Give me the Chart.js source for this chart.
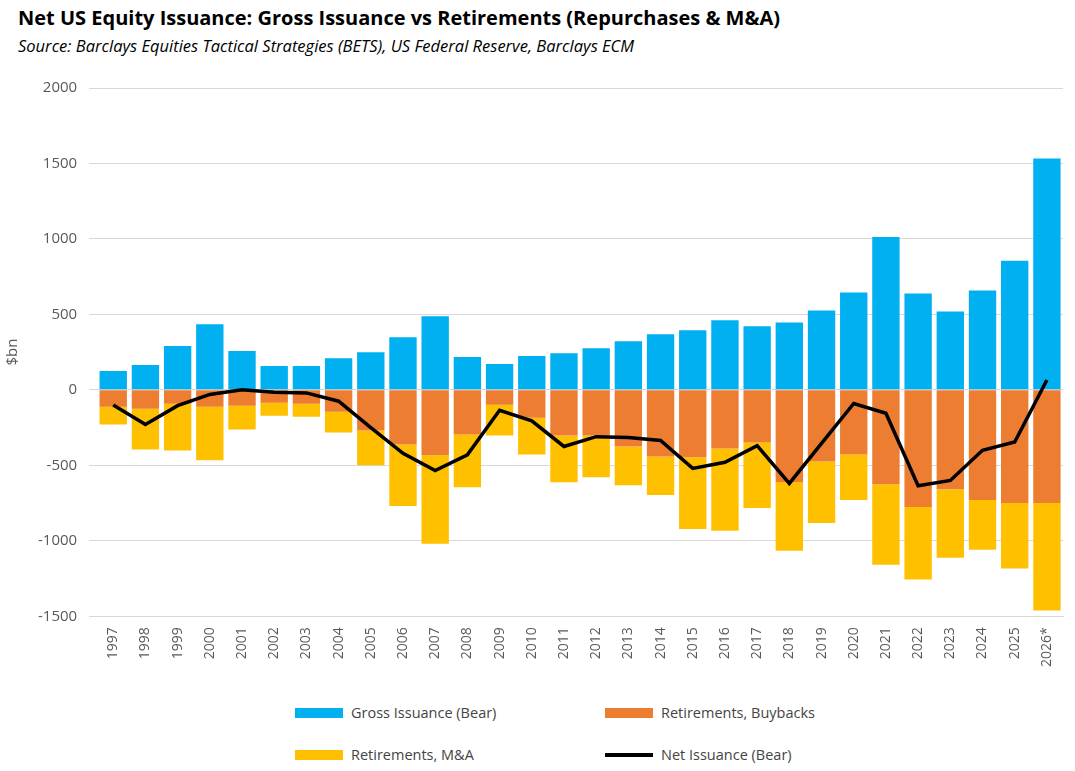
<!DOCTYPE html>
<html><head><meta charset="utf-8">
<script src="https://cdn.jsdelivr.net/npm/chart.js@4"></script>
<style>
body{margin:0;background:#fff;font-family:"Open Sans",sans-serif;width:1075px;height:771px;overflow:hidden;position:relative}
#t{position:absolute;left:18px;top:4px;font-size:20px;font-weight:bold;color:#000;font-family:"Open Sans",sans-serif}
#s{position:absolute;left:18px;top:34px;font-size:16.5px;font-style:italic;color:#000}
#c{position:absolute;left:0;top:67px;width:1075px;height:603px}
.lg{position:absolute;font-size:14.5px;color:#444;display:flex;align-items:center}
.sw{display:inline-block;width:48px;height:10px;margin-right:8px}
</style></head><body>
<div id="t">Net US Equity Issuance: Gross Issuance vs Retirements (Repurchases &amp; M&amp;A)</div>
<div id="s">Source: Barclays Equities Tactical Strategies (BETS), US Federal Reserve, Barclays ECM</div>
<div id="c"><canvas id="cv"></canvas></div>
<div class="lg" style="left:295px;top:703px"><span class="sw" style="background:#00B0F0"></span>Gross Issuance (Bear)</div>
<div class="lg" style="left:605px;top:703px"><span class="sw" style="background:#ED7D31"></span>Retirements, Buybacks</div>
<div class="lg" style="left:295px;top:745px"><span class="sw" style="background:#FFC000"></span>Retirements, M&amp;A</div>
<div class="lg" style="left:605px;top:745px"><span class="sw" style="background:#000;height:4px"></span>Net Issuance (Bear)</div>
<script>
const years=["1997","1998","1999","2000","2001","2002","2003","2004","2005","2006","2007","2008","2009","2010","2011","2012","2013","2014","2015","2016","2017","2018","2019","2020","2021","2022","2023","2024","2025","2026*"];
const gross=[125,165,290,434,257,158,158,210,250,349,487,217,171,224,243,276,322,368,395,461,421,447,526,645,1013,638,520,658,855,1533];
const buybacks=[-112,-125,-92,-112,-105,-86,-92,-145,-270,-362,-434,-296,-99,-184,-303,-303,-375,-441,-447,-388,-349,-610,-474,-428,-625,-776,-658,-730,-750,-750];
const mna=[-118,-270,-309,-355,-158,-85,-86,-138,-230,-408,-586,-349,-204,-244,-309,-276,-257,-256,-474,-546,-434,-456,-408,-302,-533,-481,-454,-329,-434,-711];
const net=[-100,-230,-105,-30,0,-15,-20,-75,-250,-420,-535,-430,-135,-205,-375,-310,-315,-335,-520,-480,-370,-620,-355,-90,-155,-635,-600,-400,-345,65];
new Chart(document.getElementById('cv'),{
 data:{labels:years,datasets:[
  {type:'line',data:net,borderColor:'#000',borderWidth:3.5,pointRadius:0,tension:0,order:0},
  {type:'bar',data:gross,backgroundColor:'#00B0F0',stack:'s',order:1},
  {type:'bar',data:buybacks,backgroundColor:'#ED7D31',stack:'s',order:1},
  {type:'bar',data:mna,backgroundColor:'#FFC000',stack:'s',order:1}]},
 options:{responsive:true,maintainAspectRatio:false,animation:false,
  layout:{padding:{left:0,right:12,top:12}},
  datasets:{bar:{barPercentage:0.85,categoryPercentage:1}},
  plugins:{legend:{display:false},tooltip:{enabled:false}},
  scales:{
   x:{stacked:true,grid:{display:false},border:{color:'#d9d9d9'},ticks:{color:'#595959',font:{size:14,family:'Open Sans'},maxRotation:90,minRotation:90}},
   y:{stacked:true,min:-1500,max:2000,ticks:{stepSize:500,callback:v=>String(v),color:'#595959',font:{size:15,family:'Open Sans'},padding:12},grid:{color:'#d9d9d9'},border:{display:false},
      title:{display:true,text:'$bn',color:'#595959',font:{size:15,family:'Open Sans'}}}}}
});
</script></body></html>
